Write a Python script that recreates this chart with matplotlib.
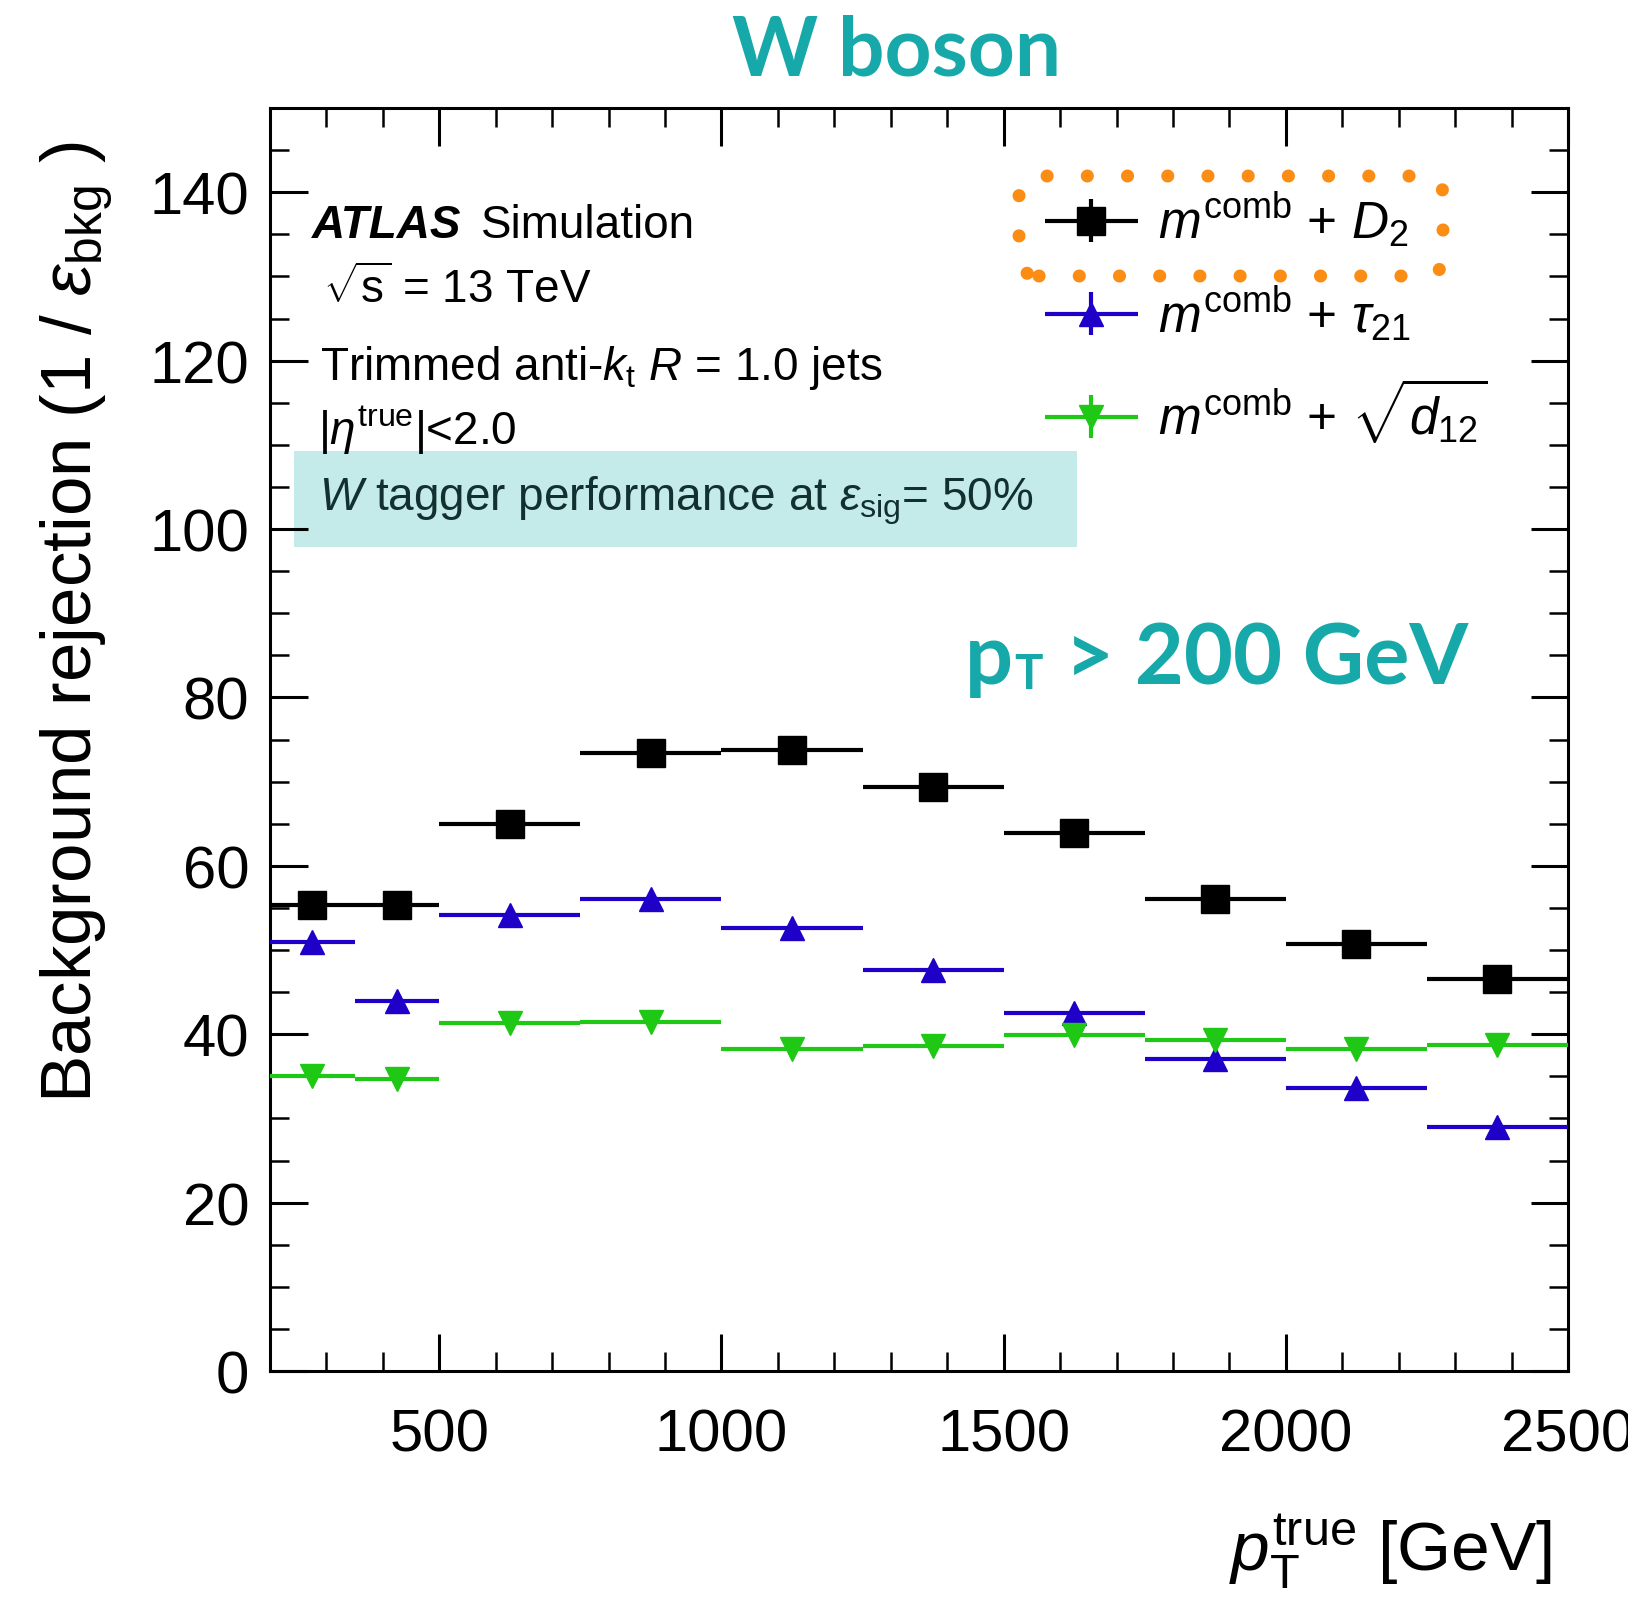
import matplotlib
matplotlib.use('Agg')
import matplotlib.pyplot as plt
from matplotlib.ticker import MultipleLocator
from matplotlib.patches import Rectangle, FancyBboxPatch
from matplotlib.container import ErrorbarContainer
from matplotlib.legend_handler import HandlerErrorbar

# pT bins (centre, half width) in GeV
pt_centre = [275, 425, 625, 875, 1125, 1375, 1625, 1875, 2125, 2375]
pt_halfw = [75, 75, 125, 125, 125, 125, 125, 125, 125, 125]

# background rejection 1/eps_bkg at eps_sig = 50%
rej_d2 = [55.4, 55.4, 65.0, 73.4, 73.7, 69.4, 63.9, 56.1, 50.7, 46.5]
rej_tau21 = [51.0, 43.9, 54.1, 56.1, 52.6, 47.6, 42.5, 37.1, 33.6, 29.0]
rej_d12 = [35.0, 34.7, 41.3, 41.5, 38.2, 38.6, 39.9, 39.3, 38.3, 38.7]
# stat. errors, hidden under the markers
err_d2 = [0.4, 0.4, 0.5, 0.6, 0.6, 0.6, 0.6, 0.6, 0.6, 0.6]
err_tau21 = [0.4, 0.3, 0.4, 0.4, 0.4, 0.4, 0.4, 0.3, 0.3, 0.3]
err_d12 = [0.3, 0.3, 0.3, 0.3, 0.3, 0.3, 0.3, 0.3, 0.3, 0.3]

labels = [r'$m^{\rm comb}$ + $D_{2}$',
          r'$m^{\rm comb}$ + $\tau_{21}$',
          r'$m^{\rm comb}$ + $\sqrt{d_{12}}$']

teal = '#17A9A9'
blue = '#1E00C8'
green = '#1EC814'
orange = '#FB8C14'

plt.rcParams['font.family'] = 'Liberation Sans'
plt.rcParams['mathtext.fontset'] = 'custom'
plt.rcParams['mathtext.rm'] = 'Liberation Sans'
plt.rcParams['mathtext.it'] = 'Liberation Sans:italic'
plt.rcParams['mathtext.bf'] = 'Liberation Sans:bold'

W, H = 1628, 1608
fig = plt.figure(figsize=(W / 100, H / 100), dpi=100)
ax = fig.add_axes([270 / W, 1 - 1372 / H, 1298 / W, 1263 / H])

handles = []
for vals, errs, mk, col, ms in [(rej_d2, err_d2, 's', 'black', 20),
                                (rej_tau21, err_tau21, '^', blue, 17.5),
                                (rej_d12, err_d12, 'v', green, 17.5)]:
    h = ax.errorbar(pt_centre, vals, xerr=pt_halfw, yerr=errs, fmt=mk, color=col,
                    mec=col, ms=ms, elinewidth=3.0, capsize=0, zorder=3)
    handles.append(h)

ax.set_xlim(200, 2500)
ax.set_ylim(0, 150)
ax.xaxis.set_major_locator(MultipleLocator(500))
ax.xaxis.set_minor_locator(MultipleLocator(100))
ax.yaxis.set_major_locator(MultipleLocator(20))
ax.yaxis.set_minor_locator(MultipleLocator(5))
ax.tick_params(which='both', direction='in', top=True, right=True, labelsize=43)
ax.tick_params(which='major', length=27, width=2.2)
ax.tick_params(which='minor', length=13.5, width=1.8)
ax.tick_params(axis='y', pad=15)
ax.tick_params(axis='x', pad=26)
for sp in ax.spines.values():
    sp.set_linewidth(2.2)

ax.set_ylabel(r'Background rejection (1 / $\epsilon_{\rm bkg}$ )', fontsize=51, loc='top')
ax.yaxis.set_label_coords(-0.12, 0.974)
ax.set_xlabel(r'$p_{\rm T}^{\rm true}$ [GeV]', fontsize=50, loc='right')
ax.xaxis.set_label_coords(0.9877, -0.111)

# legend
leg = ax.legend(handles, labels, loc='upper left', bbox_to_anchor=(0.5976, 0.935),
                frameon=False, fontsize=37, handlelength=1.78, handletextpad=0.4,
                labelspacing=0.66, borderpad=0, borderaxespad=0,
                handler_map={ErrorbarContainer: HandlerErrorbar(xerr_size=0.9, yerr_size=0.42)})

# orange dotted box round the first legend entry
box = FancyBboxPatch((10.19, 13.31), 4.24, 1.0, boxstyle='round,pad=0,rounding_size=0.2',
                     transform=fig.dpi_scale_trans, fill=False, ec=orange, lw=9.4,
                     ls=(0, (0.01, 3.07)), clip_on=False)
box.set_capstyle('round')
ax.add_patch(box)

# ATLAS label block
fs = 33
t_atlas = ax.text(0.0324, 0.8979, 'ATLAS', transform=ax.transAxes, fontsize=fs,
                  fontweight='bold', fontstyle='italic', va='baseline')
ax.annotate('Simulation', xy=(1, 0), xycoords=t_atlas, xytext=(14, 0),
            textcoords='offset points', fontsize=fs, va='bottom')
ax.text(0.0408, 0.8464, r'$\sqrt{\rm s}$ = 13 TeV', transform=ax.transAxes, fontsize=fs, va='baseline')
ax.text(0.0385, 0.7854, r'Trimmed anti-$k_{\rm t}$ $R$ = 1.0 jets', transform=ax.transAxes,
        fontsize=fs, va='baseline')
ax.text(0.0370, 0.7340, r'$|\eta^{\rm true}|$<2.0', transform=ax.transAxes, fontsize=fs, va='baseline')

ax.add_patch(Rectangle((0.0185, 0.6524), 0.6032, 0.0760, transform=ax.transAxes,
                       color='#C5EAEA', lw=0, zorder=1))
ax.text(0.0378, 0.6825, r'$W$ tagger performance at $\epsilon_{\rm sig}$= 50%',
        transform=ax.transAxes, fontsize=fs, va='baseline', color='#123030', zorder=2)

# annotations in teal
fig.text(897 / W, 1 - 76 / H, 'W boson', ha='center', va='baseline', fontsize=59,
         fontweight='bold', family='Lato', color=teal)

t_p = ax.text(0.5354, 0.5447, 'p', transform=ax.transAxes, fontsize=61, fontweight='bold',
              family='Lato', color=teal, va='baseline')
t_T = ax.annotate('T', xy=(1, 0), xycoords=t_p, xytext=(1, 1), textcoords='offset points',
                  fontsize=34, fontweight='bold', family='Lato', color=teal, va='bottom')
ax.annotate('> 200 GeV', xy=(1, 0), xycoords=(t_T, t_p), xytext=(16, 0),
            textcoords='offset points', fontsize=61, fontweight='bold', family='Lato',
            color=teal, va='bottom')

fig.savefig('out.png', dpi=100)
